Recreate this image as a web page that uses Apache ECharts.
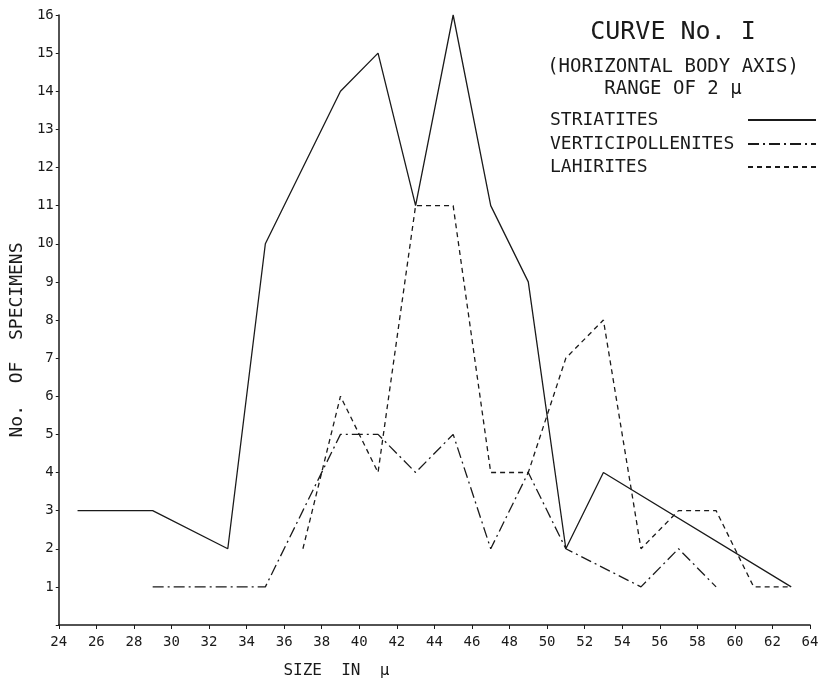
<!DOCTYPE html>
<html>
<head>
<meta charset="utf-8">
<script src="https://cdn.jsdelivr.net/npm/echarts@6/dist/echarts.min.js"></script>
<style>
  html, body { margin: 0; padding: 0; background: #fff; }
  #main { width: 825px; height: 685px; }
</style>
</head>
<body>
<div id="main"></div>
<script>
// size in microns, number of specimens
var striatites = [[25, 3], [29, 3], [33, 2], [35, 10], [37, 12], [39, 14], [41, 15], [43, 11],
                  [45, 16], [47, 11], [49, 9], [51, 2], [53, 4], [63, 1]];
var verticipollenites = [[29, 1], [35, 1], [37, 3], [39, 5], [41, 5], [43, 4], [45, 5], [47, 2],
                         [49, 4], [51, 2], [55, 1], [57, 2], [59, 1]];
var lahirites = [[37, 2], [39, 6], [41, 4], [43, 11], [45, 11], [47, 4], [49, 4], [51, 7],
                 [53, 8], [55, 2], [57, 3], [59, 3], [61, 1], [63, 1]];
var seriesNames = ['STRIATITES', 'VERTICIPOLLENITES', 'LAHIRITES'];

var ink = '#1a1a1a';
var font = 'DejaVu Sans Mono';

// one legend box per row; pad the (monospaced) text so the keys line up on the right
function legendRow(name, top) {
    var textW = name.length * 18 * 0.602;
    return {
        left: 545,
        top: top,
        align: 'right',
        itemWidth: 68,
        itemHeight: 12,
        itemGap: 0,
        itemStyle: { color: 'rgba(0,0,0,0)', borderWidth: 0 },
        textStyle: {
            fontFamily: font, fontSize: 18, color: ink,
            padding: [0, Math.max(0, 193 - textW), 0, 0]
        },
        data: [name]
    };
}

var myChart = echarts.init(document.getElementById('main'));
var option = {
    backgroundColor: '#fff',
    animation: false,
    textStyle: { fontFamily: font, color: ink },
    title: {
        text: 'CURVE No. I',
        subtext: '(HORIZONTAL BODY AXIS)\nRANGE OF 2 μ',
        left: 668,
        top: 15,
        textAlign: 'center',
        itemGap: 11,
        textStyle: { fontFamily: font, fontSize: 25, fontWeight: 'normal', color: ink },
        subtextStyle: { fontFamily: font, fontSize: 19, color: ink, lineHeight: 22 }
    },
    legend: [
        legendRow(seriesNames[0], 106),
        legendRow(seriesNames[1], 130),
        legendRow(seriesNames[2], 153)
    ],
    grid: { left: 57, right: 15, top: 15, bottom: 60 },
    xAxis: {
        type: 'value',
        min: 24,
        max: 64,
        interval: 2,
        name: 'SIZE  IN  μ',
        nameLocation: 'middle',
        nameGap: 38,
        nameTextStyle: { fontFamily: font, fontSize: 16, color: ink, padding: [0, 196, 0, 0] },
        axisLine: { lineStyle: { color: ink, width: 1.5 } },
        axisTick: { length: 4, lineStyle: { color: ink } },
        axisLabel: { fontFamily: font, fontSize: 14, color: ink, margin: 10 },
        splitLine: { show: false }
    },
    yAxis: {
        type: 'value',
        min: 0,
        max: 16,
        interval: 1,
        name: 'No.  OF  SPECIMENS',
        nameLocation: 'middle',
        nameRotate: 90,
        nameGap: 30,
        nameTextStyle: { fontFamily: font, fontSize: 18, color: ink, padding: [0, 40, 0, 0] },
        axisLine: { show: true, lineStyle: { color: ink, width: 1.5 } },
        axisTick: { show: true, length: 3, lineStyle: { color: ink } },
        axisLabel: {
            fontFamily: font, fontSize: 14, color: ink, margin: 5,
            formatter: function (v) { return v === 0 ? '' : v; }
        },
        splitLine: { show: false }
    },
    series: [
        {
            name: seriesNames[0],
            type: 'line',
            data: striatites,
            symbol: 'none',
            lineStyle: { color: ink, width: 1.3, type: 'solid' },
            itemStyle: { color: ink }
        },
        {
            name: seriesNames[1],
            type: 'line',
            data: verticipollenites,
            symbol: 'none',
            lineStyle: { color: ink, width: 1.3, type: [11, 4, 2, 4] },
            itemStyle: { color: ink }
        },
        {
            name: seriesNames[2],
            type: 'line',
            data: lahirites,
            symbol: 'none',
            lineStyle: { color: ink, width: 1.3, type: [5, 4] },
            itemStyle: { color: ink }
        }
    ]
};
myChart.setOption(option);
</script>
</body>
</html>
